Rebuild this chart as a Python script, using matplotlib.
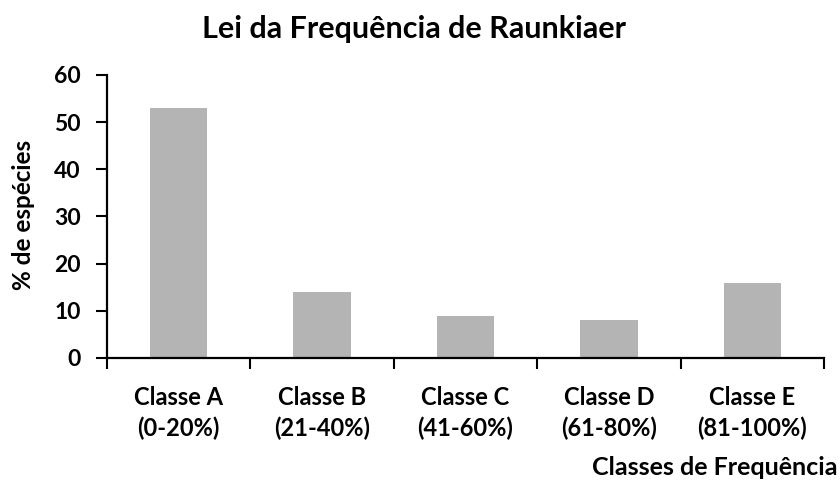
import matplotlib
matplotlib.use("Agg")
import matplotlib.pyplot as plt

categories = ["Classe A\n(0-20%)", "Classe B\n(21-40%)", "Classe C\n(41-60%)",
              "Classe D\n(61-80%)", "Classe E\n(81-100%)"]
values = [53, 14, 9, 8, 16]
yticks = [0, 10, 20, 30, 40, 50, 60]

plt.rcParams['font.family'] = ['Lato', 'DejaVu Sans']
plt.rcParams['font.weight'] = 'bold'

fig = plt.figure(figsize=(8.4, 4.82), dpi=100)
ax = fig.add_axes([0.1274, 0.2573, 0.8536, 0.5871])

x = list(range(len(categories)))
ax.bar(x, values, width=0.4, color='#b4b4b4', zorder=2)

ax.set_xlim(-0.5, len(categories) - 0.5)
ax.set_ylim(0, 60)
ax.set_yticks(yticks)
ax.set_yticklabels([str(v) for v in yticks], fontsize=16.5, fontweight='bold')

ax.set_xticks([i - 0.5 for i in range(len(categories) + 1)])
ax.set_xticklabels([])
ax.set_xticks(x, minor=True)
ax.set_xticklabels(categories, minor=True, fontsize=17, fontweight='bold', linespacing=1.4)
ax.tick_params(axis='x', which='minor', length=0, pad=20)
ax.tick_params(axis='x', which='major', length=8, width=1.5, direction='out')
ax.tick_params(axis='y', length=8, width=1.5, direction='out', pad=11)

for s in ['top', 'right']:
    ax.spines[s].set_visible(False)
for s in ['left', 'bottom']:
    ax.spines[s].set_linewidth(1.6)

fig.text(0.0274, 0.554, "% de espécies", rotation=90, ha='center', va='center',
         fontsize=17.5, fontweight='bold')
fig.text(0.997, 0.014, "Classes de Frequência", ha='right', va='baseline',
         fontsize=18, fontweight='bold')
fig.text(0.493, 0.921, "Lei da Frequência de Raunkiaer", ha='center', va='baseline',
         fontsize=22, fontweight='bold')

fig.savefig("out.png", dpi=100)
